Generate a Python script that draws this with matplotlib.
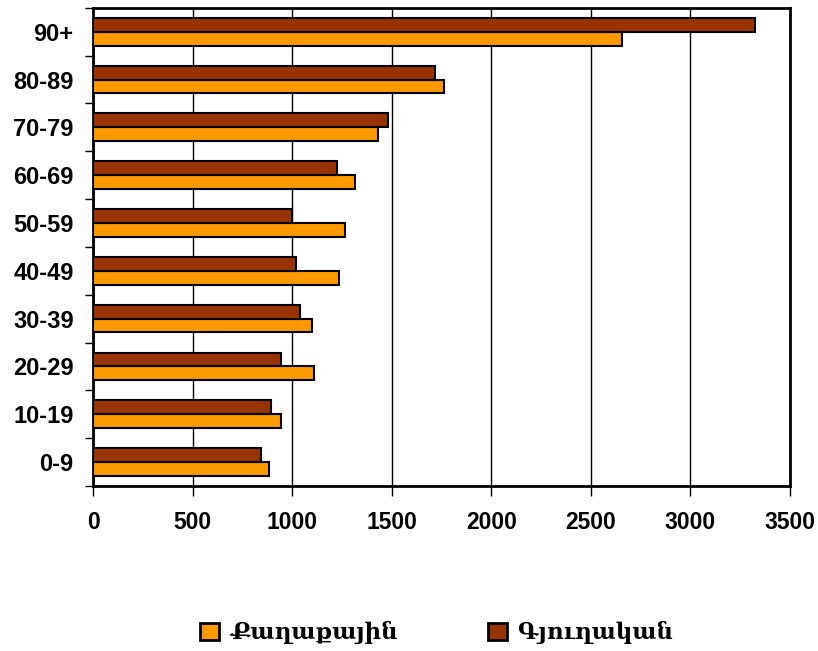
import numpy as np
import matplotlib.pyplot as plt
from matplotlib.patches import Patch

# age groups, bottom to top
groups = ['0-9', '10-19', '20-29', '30-39', '40-49', '50-59', '60-69', '70-79', '80-89', '90+']
urban = [884, 942, 1109, 1099, 1236, 1266, 1315, 1433, 1765, 2655]   # Քաղաքային
rural = [845, 895, 943, 1040, 1020, 1000, 1224, 1480, 1715, 3325]    # Գյուղական
xticks = [0, 500, 1000, 1500, 2000, 2500, 3000, 3500]

c_urban = '#FF9900'
c_rural = '#993300'

fig = plt.figure(figsize=(8.18, 6.51), dpi=100)
ax = fig.add_axes([0.1137, 0.2535, 0.852, 0.7345])

y = np.arange(len(groups))
h = 0.29
ax.barh(y - h/2, urban, height=h, color=c_urban, edgecolor='black', linewidth=1.5, zorder=3)
ax.barh(y + h/2, rural, height=h, color=c_rural, edgecolor='black', linewidth=1.5, zorder=3)

ax.set_xlim(0, 3500)
ax.set_ylim(-0.5, len(groups) - 0.5)
ax.set_xticks(xticks)
ax.set_xticklabels([str(v) for v in xticks], fontsize=16.5, fontweight='bold',
                   family='Liberation Sans')
ax.grid(axis='x', color='black', linewidth=1, zorder=0)

# category labels at centres, tick marks at boundaries
ax.set_yticks(y)
ax.set_yticklabels(groups, fontsize=17, fontweight='bold', family='Liberation Sans')
ax.tick_params(axis='y', which='major', length=0, pad=14)
ax.set_yticks(np.arange(-0.5, len(groups)), minor=True)
ax.tick_params(axis='y', which='minor', length=6, width=1, direction='out')
ax.tick_params(axis='x', length=7, width=1, direction='out', pad=11)

for s in ax.spines.values():
    s.set_linewidth(2)
    s.set_color('black')

handles = [Patch(facecolor=c_urban, edgecolor='black', linewidth=2),
           Patch(facecolor=c_rural, edgecolor='black', linewidth=2)]
fig.legend(handles, ['Քաղաքային', 'Գյուղական'], loc='center', bbox_to_anchor=(0.534, 0.028),
           ncol=2, frameon=False, handlelength=0.8, handleheight=0.8, handletextpad=0.5,
           columnspacing=3.95, prop={'family': 'DejaVu Serif', 'size': 16.5, 'weight': 'bold'})

plt.savefig('out.png', dpi=100)
